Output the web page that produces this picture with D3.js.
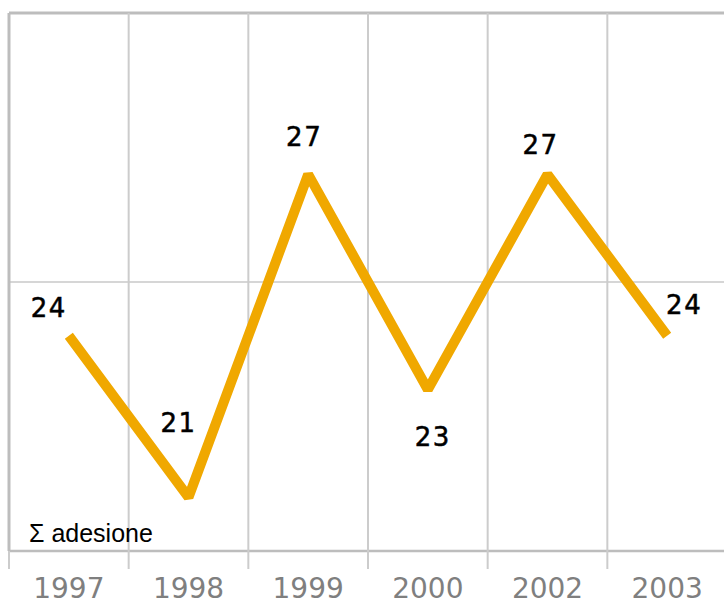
<!DOCTYPE html>
<html>
<head>
<meta charset="utf-8">
<script src="https://cdn.jsdelivr.net/npm/d3@7"></script>
<style>
  body{margin:0;background:#fff;}
  svg{display:block;}
</style>
</head>
<body>
<div id="chart"></div>
<script>
/* adesione per anno - line chart */

var years = ["1997","1998","1999","2000","2002","2003"];
var adesione = [24, 21, 27, 23, 27, 24];
var yTicks = [20, 25, 30];
var seriesName = "\u03A3 adesione";

// label nudges (layout only), px relative to the point
var labelDx = [-20, -10, -4, 5, -7, 17];
var labelDy = [-19, -65, -28, 56, -20, -22];

var W = 724, H = 602;
var plotL = 9, plotR = 727, plotT = 13, plotB = 551;

var svg = d3.select("#chart").append("svg")
  .attr("width", W).attr("height", H);

var x = d3.scaleBand().domain(years).range([plotL, plotR]);
var y = d3.scaleLinear().domain([20, 30]).range([plotB, plotT]);

// horizontal grid
svg.append("g").selectAll("line")
  .data(yTicks).enter().append("line")
  .attr("x1", plotL).attr("x2", W)
  .attr("y1", function(d){return y(d);})
  .attr("y2", function(d){return y(d);})
  .attr("stroke", function(d){return d == 25 ? "#c8c8c8" : "#bdbdbd";})
  .attr("stroke-width", function(d){return d == 30 ? 3 : (d == 20 ? 2.5 : 1.5);});

// vertical grid at band edges
var edges = years.map(function(d){return x(d);});
svg.append("g").selectAll("line")
  .data(edges).enter().append("line")
  .attr("x1", function(d){return d;}).attr("x2", function(d){return d;})
  .attr("y1", plotT).attr("y2", plotB)
  .attr("stroke", function(d,i){return i == 0 ? "#bdbdbd" : "#cccccc";})
  .attr("stroke-width", function(d,i){return i == 0 ? 3 : 2;});

// bottom axis
var xAxis = svg.append("g")
  .attr("transform", "translate(0," + plotB + ")")
  .call(d3.axisBottom(x).tickSize(0).tickPadding(27));
xAxis.select(".domain").remove();
xAxis.selectAll("text")
  .attr("font-family", "'DejaVu Sans', Verdana, sans-serif")
  .attr("font-size", "28px")
  .attr("fill", "#7f7f7f");

svg.append("g").selectAll("line")
  .data(edges).enter().append("line")
  .attr("x1", function(d){return d;}).attr("x2", function(d){return d;})
  .attr("y1", plotB).attr("y2", plotB + 18)
  .attr("stroke", "#cccccc")
  .attr("stroke-width", 2);

// the line
var line = d3.line()
  .x(function(d,i){return x(years[i]) + x.bandwidth()/2;})
  .y(function(d){return y(d);});

svg.append("path")
  .datum(adesione)
  .attr("d", line)
  .attr("fill", "none")
  .attr("stroke", "#f0a800")
  .attr("stroke-width", 10)
  .attr("stroke-linejoin", "bevel");

// value labels
svg.append("g").selectAll("text")
  .data(adesione).enter().append("text")
  .attr("x", function(d,i){return x(years[i]) + x.bandwidth()/2 + labelDx[i];})
  .attr("y", function(d,i){return y(d) + labelDy[i];})
  .attr("text-anchor", "middle")
  .attr("font-family", "'DejaVu Sans', Verdana, sans-serif")
  .attr("font-size", "26px")
  .attr("letter-spacing", "1.5px")
  .attr("fill", "#000")
  .attr("stroke", "#000")
  .attr("stroke-width", 0.5)
  .text(function(d){return d;});

// series label
svg.append("text")
  .attr("x", 29).attr("y", 542)
  .attr("font-family", "'Liberation Sans', Arial, sans-serif")
  .attr("font-size", "25px")
  .attr("fill", "#000")
  .text(seriesName);
</script>
</body>
</html>
